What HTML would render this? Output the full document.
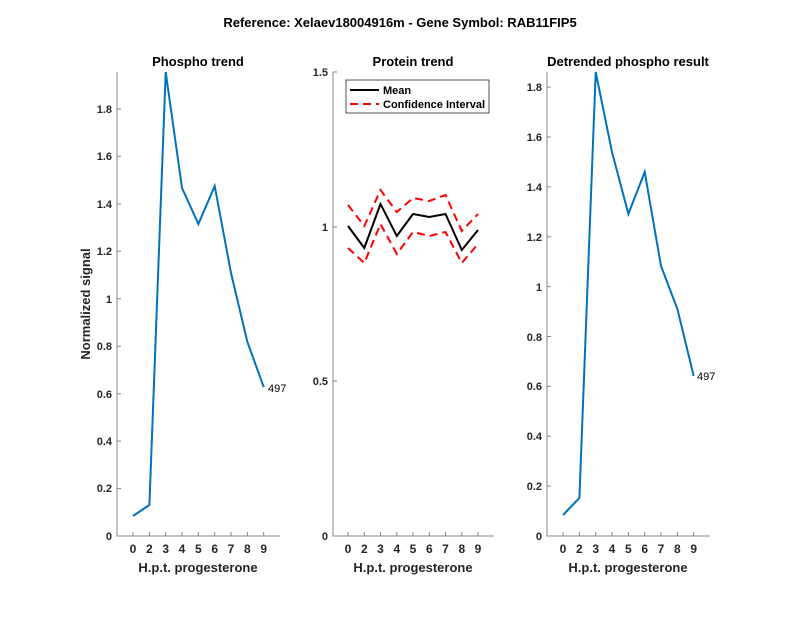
<!DOCTYPE html><html><head><style>body{margin:0;background:#fff}svg{font-family:"Liberation Sans",sans-serif}</style></head><body>
<svg width="800" height="618" xmlns="http://www.w3.org/2000/svg">
<rect width="800" height="618" fill="#fff"/>
<text x="400" y="27" text-anchor="middle" font-size="13" font-weight="bold" fill="#000">Reference:  Xelaev18004916m - Gene Symbol:  RAB11FIP5</text>
<g font-size="11" font-weight="bold" fill="#262626" stroke="none">
<!-- panel 1 -->
<text x="198" y="66" text-anchor="middle" font-size="13" font-weight="bold" fill="#000">Phospho trend</text>
<path d="M117,72V536H280" fill="none" stroke="#868686" stroke-width="1"/>
<g stroke="#868686"><path d="M117,536h4M117,488.6h4M117,441.1h4M117,393.7h4M117,346.2h4M117,298.8h4M117,251.3h4M117,203.9h4M117,156.4h4M117,109h4"/>
<path d="M133,536v-4M149.4,536v-4M165.7,536v-4M182,536v-4M198.4,536v-4M214.7,536v-4M231,536v-4M247.4,536v-4M263.7,536v-4"/></g>
<g text-anchor="end"><text x="112" y="540">0</text><text x="112" y="492">0.2</text><text x="112" y="445">0.4</text><text x="112" y="398">0.6</text><text x="112" y="350">0.8</text><text x="112" y="303">1</text><text x="112" y="255">1.2</text><text x="112" y="208">1.4</text><text x="112" y="160">1.6</text><text x="112" y="113">1.8</text></g>
<g text-anchor="middle" font-size="12"><text x="133" y="553">0</text><text x="149.4" y="553">2</text><text x="165.7" y="553">3</text><text x="182" y="553">4</text><text x="198.4" y="553">5</text><text x="214.7" y="553">6</text><text x="231" y="553">7</text><text x="247.4" y="553">8</text><text x="263.7" y="553">9</text></g>
<text x="198" y="572" text-anchor="middle" font-size="13" font-weight="bold">H.p.t. progesterone</text>
<text transform="translate(90,304) rotate(-90)" text-anchor="middle" font-size="13" font-weight="bold">Normalized signal</text>
<polyline points="133,516 149.4,505 165.7,72 182,188 198.4,224 214.7,186 231,273 247.4,342 263.7,387" fill="none" stroke="#0072BD" stroke-width="2"/>
<text x="268" y="392" fill="#000" font-weight="normal">497</text>
<!-- panel 2 -->
<text x="413" y="66" text-anchor="middle" font-size="13" font-weight="bold" fill="#000">Protein trend</text>
<path d="M333,72V536H494" fill="none" stroke="#868686"/>
<g stroke="#868686"><path d="M333,72h4M333,227h4M333,381h4M333,536h4"/>
<path d="M348,536v-4M364.3,536v-4M380.5,536v-4M396.8,536v-4M413,536v-4M429.3,536v-4M445.5,536v-4M461.8,536v-4M478,536v-4"/></g>
<g text-anchor="end"><text x="328" y="76">1.5</text><text x="328" y="231">1</text><text x="328" y="385">0.5</text><text x="328" y="540">0</text></g>
<g text-anchor="middle" font-size="12"><text x="348" y="553">0</text><text x="364.3" y="553">2</text><text x="380.5" y="553">3</text><text x="396.8" y="553">4</text><text x="413" y="553">5</text><text x="429.3" y="553">6</text><text x="445.5" y="553">7</text><text x="461.8" y="553">8</text><text x="478" y="553">9</text></g>
<text x="413" y="572" text-anchor="middle" font-size="13" font-weight="bold">H.p.t. progesterone</text>
<polyline points="348,205 364.3,226 380.5,190 396.8,212 413,198 429.3,201 445.5,195 461.8,231 478,214" fill="none" stroke="red" stroke-width="2" stroke-dasharray="8,5"/>
<polyline points="348,248 364.3,263 380.5,224 396.8,254 413,232 429.3,236 445.5,232 461.8,263 478,244" fill="none" stroke="red" stroke-width="2" stroke-dasharray="8,5"/>
<polyline points="348,226 364.3,248 380.5,204 396.8,236 413,214 429.3,217 445.5,214 461.8,250 478,230" fill="none" stroke="#000" stroke-width="2"/>
<rect x="346" y="80" width="143" height="33" fill="#fff" stroke="#262626" stroke-width="0.8"/>
<line x1="350" y1="90" x2="379" y2="90" stroke="#000" stroke-width="2"/>
<line x1="350" y1="104" x2="379" y2="104" stroke="red" stroke-width="2" stroke-dasharray="8,5"/>
<text x="383" y="94" font-size="11" font-weight="bold" fill="#000">Mean</text>
<text x="383" y="108" font-size="11" font-weight="bold" fill="#000">Confidence Interval</text>
<!-- panel 3 -->
<text x="628" y="66" text-anchor="middle" font-size="13" font-weight="bold" fill="#000">Detrended phospho result</text>
<path d="M547,72V536H710" fill="none" stroke="#868686"/>
<g stroke="#868686"><path d="M547,536h4M547,486.1h4M547,436.2h4M547,386.4h4M547,336.5h4M547,286.6h4M547,236.8h4M547,186.9h4M547,137h4M547,87.1h4"/>
<path d="M563,536v-4M579.4,536v-4M595.7,536v-4M612,536v-4M628.4,536v-4M644.7,536v-4M661,536v-4M677.4,536v-4M693.7,536v-4"/></g>
<g text-anchor="end"><text x="542" y="540">0</text><text x="542" y="490">0.2</text><text x="542" y="440">0.4</text><text x="542" y="390">0.6</text><text x="542" y="341">0.8</text><text x="542" y="291">1</text><text x="542" y="241">1.2</text><text x="542" y="191">1.4</text><text x="542" y="141">1.6</text><text x="542" y="91">1.8</text></g>
<g text-anchor="middle" font-size="12"><text x="563" y="553">0</text><text x="579.4" y="553">2</text><text x="595.7" y="553">3</text><text x="612" y="553">4</text><text x="628.4" y="553">5</text><text x="644.7" y="553">6</text><text x="661" y="553">7</text><text x="677.4" y="553">8</text><text x="693.7" y="553">9</text></g>
<text x="628" y="572" text-anchor="middle" font-size="13" font-weight="bold">H.p.t. progesterone</text>
<polyline points="563,515 579.4,498 595.7,72 612,152 628.4,214 644.7,172 661,266 677.4,309 693.7,376" fill="none" stroke="#0072BD" stroke-width="2"/>
<text x="697" y="380" fill="#000" font-weight="normal">497</text>
</g>
</svg></body></html>
